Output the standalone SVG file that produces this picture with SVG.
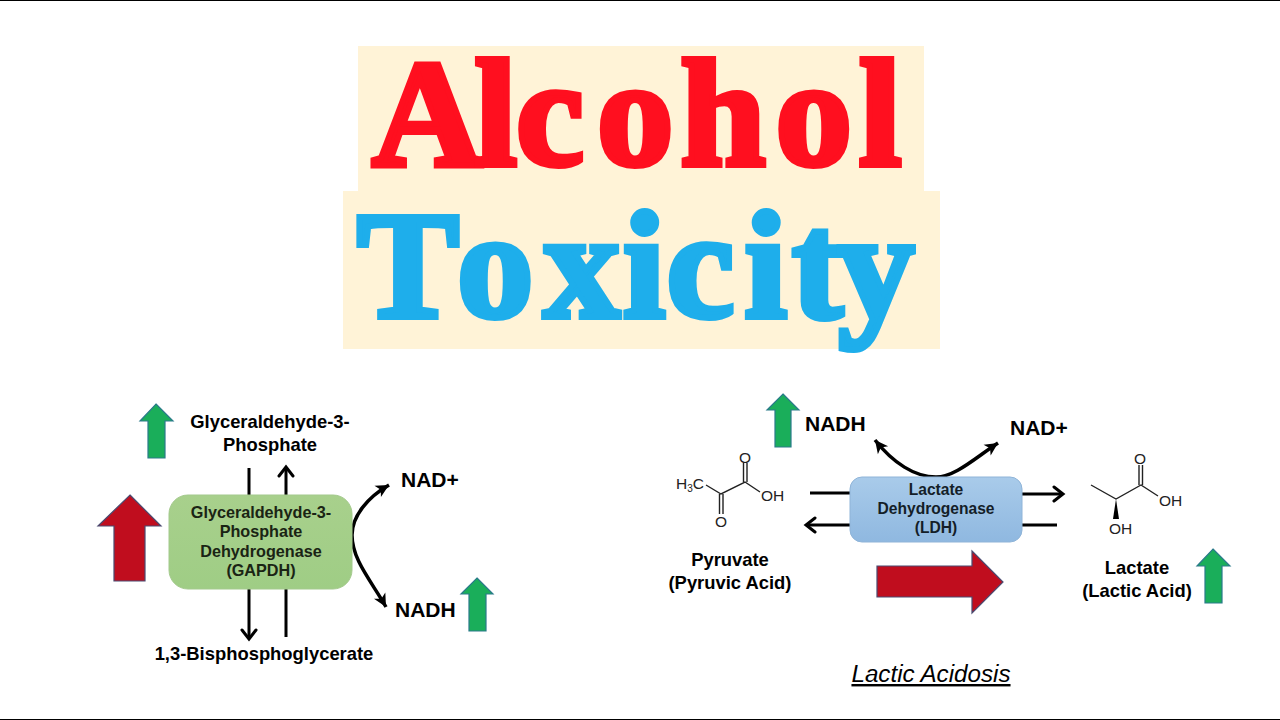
<svg xmlns="http://www.w3.org/2000/svg" width="1280" height="720" viewBox="0 0 1280 720">
<style>
text{font-family:"Liberation Sans",Arial,sans-serif;fill:#000}
.b{font-weight:700;text-anchor:middle}
.l{font-size:18.4px}
.e{font-size:16.2px;fill:#1a2414}
.f{font-size:15.6px;fill:#141e28}
.n{font-size:21px;font-weight:700}
.m{font-size:15.5px;fill:#222}
.t{font-family:"Liberation Serif",serif;font-weight:700;font-size:153px;stroke-width:6px;stroke-linejoin:miter}
.red{fill:#c00d1e;stroke:#4a4a70;stroke-width:1.2}
.grn{fill:#1aae5a;stroke:#2a7a8a;stroke-width:1.2}
.c{fill:none;stroke:#000;stroke-width:3}
.c2{fill:none;stroke:#000;stroke-width:3.5}
.h{fill:none;stroke:#000;stroke-width:3;stroke-linecap:round;stroke-linejoin:miter}
.bd{fill:none;stroke:#222;stroke-width:1.4}
</style>
<defs>
<linearGradient id="gg" x1="0" y1="0" x2="0" y2="1"><stop offset="0" stop-color="#a8d08c"/><stop offset="1" stop-color="#9fcd85"/></linearGradient>
<linearGradient id="bg" x1="0" y1="0" x2="0" y2="1"><stop offset="0" stop-color="#a9cbea"/><stop offset="1" stop-color="#8fb8e0"/></linearGradient>
<marker id="ah" markerUnits="userSpaceOnUse" markerWidth="18" markerHeight="16" refX="14" refY="8" orient="auto"><path d="M1 1.5 L14 8 L1 14.5 L4.500 8Z" fill="#000"/></marker>
</defs>
<rect width="1280" height="720" fill="#fff"/>
<rect x="0" y="0" width="1280" height="1" fill="#000"/>
<rect x="0" y="719" width="1280" height="1" fill="#000"/>

<g id="title">
<rect x="358" y="46" width="566" height="146" fill="#fff3d7"/>
<rect x="343" y="191" width="597" height="158" fill="#fff3d7"/>
<text class="t" x="372" y="165" dx="0 -8 -1 13 7 10 7" stroke="#ff0f1f" style="fill:#ff0f1f">Alcohol</text>
<text class="t" x="357" y="317" dx="0 12 10 3 1 10 5 -5" stroke="#1eaeeb" style="fill:#1eaeeb">Toxicity</text>
</g>

<g id="connectors">
<path class="c" d="M249 468V495M286 495V468M249 589V638M286 589V637"/>
<path class="h" d="M279 476L286 467L293 476M242 630L249 639L256 630"/>
<path class="c2" d="M352 535C352 516 368 497 389 485" marker-end="url(#ah)"/>
<path class="c2" d="M352 535C352 560 372 582 386 607" marker-end="url(#ah)"/>
<path class="c" d="M810 493H850M850 525H806M1022 494H1063M1022 525H1057"/>
<path class="h" d="M815 518L806 525L815 532M1054 487L1063 494L1054 501"/>
<path class="c2" d="M936 477C915 477 893 463 875 440" marker-end="url(#ah)"/>
<path class="c2" d="M936 477C955 477 975 458 998 443" marker-end="url(#ah)"/>
</g>

<g id="gapdh">
<rect x="169" y="495" width="183" height="94" rx="19" fill="url(#gg)" stroke="#a3c98c" stroke-width="1"/>
<text class="b e" x="261" y="518">Glyceraldehyde-3-</text>
<text class="b e" x="261" y="537">Phosphate</text>
<text class="b e" x="261" y="557">Dehydrogenase</text>
<text class="b e" x="261" y="576">(GAPDH)</text>
</g>
<g id="ldh">
<rect x="850" y="477" width="172" height="65" rx="12" fill="url(#bg)" stroke="#8fb4d8" stroke-width="1"/>
<text class="b f" x="936" y="495">Lactate</text>
<text class="b f" x="936" y="514">Dehydrogenase</text>
<text class="b f" x="936" y="533">(LDH)</text>
</g>

<g id="g3p"><text class="b l" x="270" y="428">Glyceraldehyde-3-</text><text class="b l" x="270" y="451">Phosphate</text></g>
<g id="bpg"><text class="b l" x="264" y="660">1,3-Bisphosphoglycerate</text></g>
<g id="nad1"><text class="n" x="401" y="487">NAD+</text></g>
<g id="nadh1"><text class="n" x="395" y="617">NADH</text></g>
<g id="nadh2"><text class="n" x="805" y="431">NADH</text></g>
<g id="nad2"><text class="n" x="1010" y="435">NAD+</text></g>
<g id="pyruvate-label"><text class="b l" x="730" y="566">Pyruvate</text><text class="b l" x="730" y="589">(Pyruvic Acid)</text></g>
<g id="lactate-label"><text class="b l" x="1137" y="574">Lactate</text><text class="b l" x="1137" y="597">(Lactic Acid)</text></g>
<g id="caption"><text x="931" y="682" text-anchor="middle" style="font-size:24.2px;font-style:italic;text-decoration:underline">Lactic Acidosis</text></g>

<g id="arrow-red-up"><path class="red" d="M130 495L161 526H145V581H114V526H98Z"/></g>
<g id="arrow-red-right"><path class="red" d="M877 566H972V551L1003 582L972 613V597H877Z"/></g>
<g id="arrow-green-1"><path class="grn" d="M156 404L173 421H165V458H148V421H140Z"/></g>
<g id="arrow-green-2"><path class="grn" d="M477 578L493 594H486V631H469V594H461Z"/></g>
<g id="arrow-green-3"><path class="grn" d="M783 394L799 410H791V447H775V410H767Z"/></g>
<g id="arrow-green-4"><path class="grn" d="M1213 549L1230 566H1222V603H1205V566H1197Z"/></g>

<g id="pyruvate-mol">
<path class="bd" d="M706 485L721 494L745 482L760 492M743.500 482V463M747 482V463M719.500 494V514M723 494V514"/>
<text class="m" x="676" y="489">H<tspan dy="3" font-size="10">3</tspan><tspan dy="-3">C</tspan></text>
<text class="m" x="761" y="501">OH</text>
<text class="m" x="745" y="463" text-anchor="middle">O</text>
<text class="m" x="721" y="527" text-anchor="middle">O</text>
</g>
<g id="lactate-mol">
<path class="bd" d="M1091 485L1116 499L1141 485L1158 496M1139 485V465M1142.500 485V465"/>
<path d="M1116 499L1113 519H1119Z" fill="#000"/>
<text class="m" x="1159" y="506">OH</text>
<text class="m" x="1109" y="534">OH</text>
<text class="m" x="1140" y="464" text-anchor="middle">O</text>
</g>
</svg>
